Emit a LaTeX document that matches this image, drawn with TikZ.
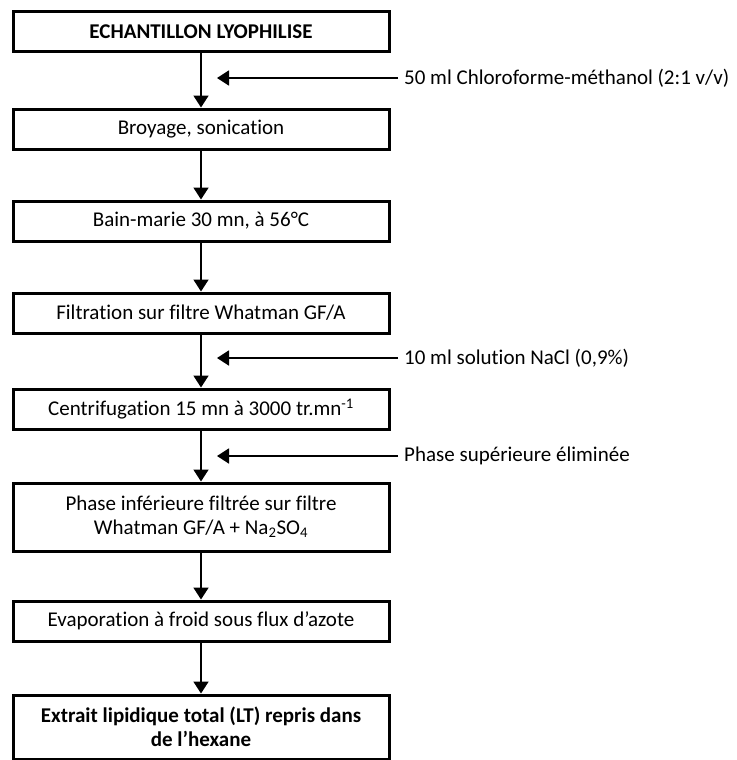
\documentclass[tikz,border=0pt]{standalone}
\usepackage{fontspec}
\setmainfont[Ligatures=NoCommon]{Carlito}
\usetikzlibrary{arrows.meta, positioning}

\begin{document}
\begin{tikzpicture}[x=1pt, y=-1pt,
    etape/.style={draw=black, line width=3pt, minimum width=376pt, minimum height=40pt, inner sep=2pt, align=center, font=\fontsize{21}{24}\selectfont},
    fleche/.style={line width=1.8pt, -{Triangle[width=15pt, length=12pt]}},
    ajout/.style={anchor=west, inner sep=0pt, font=\fontsize{21}{24}\selectfont}]
    \useasboundingbox (0,0) rectangle (736,760);

    % Etapes du protocole
    \node[etape, font=\fontsize{21}{24}\selectfont\bfseries] (echantillon) at (201,32) {ECHANTILLON LYOPHILISE};
    \node[etape] (broyage) at (201,129) {Broyage, sonication};
    \node[etape] (bainmarie) at (201,221) {Bain-marie 30 mn, à 56°C};
    \node[etape] (filtration) at (201,313) {Filtration sur filtre Whatman GF/A};
    \node[etape] (centrif) at (201,409) {Centrifugation 15 mn à 3000 tr.mn\textsuperscript{-1}};
    \node[etape, minimum height=68pt] (phaseinf) at (201,517) {Phase inférieure filtrée sur filtre\\Whatman GF/A + Na\textsubscript{2}SO\textsubscript{4}};
    \node[etape] (evaporation) at (201,621) {Evaporation à froid sous flux d’azote};
    \node[etape, minimum height=64pt, font=\fontsize{21}{24}\selectfont\bfseries] (extrait) at (201,727) {Extrait lipidique total (LT) repris dans\\de l’hexane};

    % Fleches verticales
    \draw[fleche] (echantillon) -- (broyage);
    \draw[fleche] (broyage) -- (bainmarie);
    \draw[fleche] (bainmarie) -- (filtration);
    \draw[fleche] (filtration) -- (centrif);
    \draw[fleche] (centrif) -- (phaseinf);
    \draw[fleche] (phaseinf) -- (evaporation);
    \draw[fleche] (evaporation) -- (extrait);

    % Ajouts et eliminations
    \node[ajout] (chloro) at (404,78) {50 ml Chloroforme-méthanol (2:1 v/v)};
    \node[ajout] (nacl) at (404,358) {10 ml solution NaCl (0,9\%)};
    \node[ajout] (phasesup) at (404,456) {Phase supérieure éliminée};
    \coordinate (p1) at (217,78);
    \coordinate (p2) at (217,358);
    \coordinate (p3) at (217,456);
    \draw[fleche] ([xshift=-6pt]chloro.west) -- (p1);
    \draw[fleche] ([xshift=-6pt]nacl.west) -- (p2);
    \draw[fleche] ([xshift=-6pt]phasesup.west) -- (p3);
\end{tikzpicture}
\end{document}
